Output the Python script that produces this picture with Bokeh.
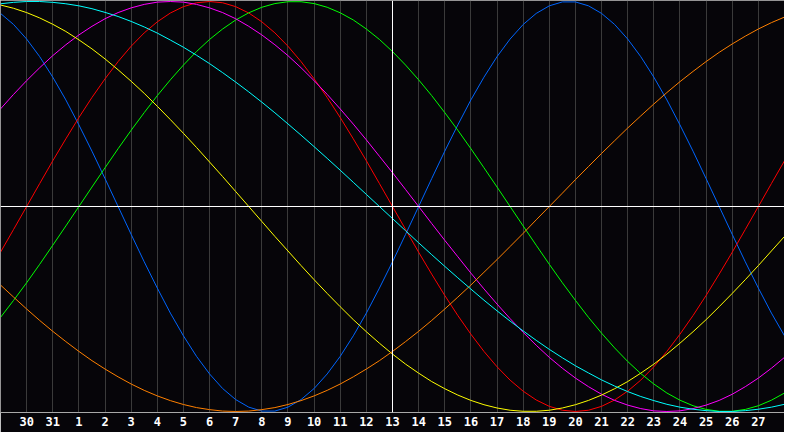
from bokeh.plotting import figure
from bokeh.models import Range1d, Span, FixedTicker
from bokeh.embed import file_html
from bokeh.resources import INLINE

# x positions: half-day steps over the 30-day window (0 = left edge, 15 = today)
days = [i * 0.5 for i in range(61)]

# biorhythm values in per mille (-1000 .. 1000), read at each half day
physical = [942, 888, 817, 731, 631, 520, 398, 270, 136, 0, -136, -270, -398, -520, -631, -731, -817, -888, -942, -979,
            -998, -998, -979, -942, -888, -817, -731, -631, -520, -398, -270, -136, 0, 136, 270, 398, 520, 631, 731, 817,
            888, 942, 979, 998, 998, 979, 942, 888, 817, 731, 631, 520, 398, 270, 136, 0, -136, -270, -398, -520, -631]
emotional = [-223, -112, 0, 112, 223, 330, 434, 532, 623, 707, 782, 847, 901, 944, 975, 994, 1000, 994, 975, 944,
             901, 847, 782, 707, 623, 532, 434, 330, 223, 112, 0, -112, -223, -330, -434, -532, -623, -707, -782, -847,
             -901, -944, -975, -994, -1000, -994, -975, -944, -901, -847, -782, -707, -623, -532, -434, -330, -223, -112, 0, 112, 223]
intellectual = [-541, -458, -372, -282, -189, -95, 0, 95, 189, 282, 372, 458, 541, 618, 690, 756, 815, 866, 910, 945,
                972, 990, 999, 999, 990, 972, 945, 910, 866, 815, 756, 690, 618, 541, 458, 372, 282, 189, 95, 0,
                -95, -189, -282, -372, -458, -541, -618, -690, -756, -815, -866, -910, -945, -972, -990, -999, -999, -990, -972, -945, -910]
intuitive = [476, 547, 614, 677, 736, 789, 837, 879, 916, 946, 969, 986, 997, 1000, 997, 986, 969, 946, 916, 879,
             837, 789, 736, 677, 614, 547, 476, 402, 325, 245, 165, 83, 0, -83, -165, -245, -325, -402, -476, -547,
             -614, -677, -736, -789, -837, -879, -916, -946, -969, -986, -997, -1000, -997, -986, -969, -946, -916, -879, -837, -789, -736]
aesthetic = [983, 967, 946, 920, 889, 854, 813, 769, 720, 667, 611, 552, 489, 424, 357, 288, 217, 146, 73, 0,
             -73, -146, -217, -288, -357, -424, -489, -552, -611, -667, -720, -769, -813, -854, -889, -920, -946, -967, -983, -994,
             -999, -999, -994, -983, -967, -946, -920, -889, -854, -813, -769, -720, -667, -611, -552, -489, -424, -357, -288, -217, -146]
awareness = [-383, -442, -500, -556, -609, -659, -707, -752, -793, -831, -866, -897, -924, -947, -966, -981, -991, -998, -1000, -998,
             -991, -981, -966, -947, -924, -897, -866, -831, -793, -752, -707, -659, -609, -556, -500, -442, -383, -321, -259, -195,
             -131, -65, 0, 65, 131, 195, 259, 321, 383, 442, 500, 556, 609, 659, 707, 752, 793, 831, 866, 897, 924]
spiritual = [989, 996, 1000, 1000, 996, 989, 979, 965, 947, 927, 903, 876, 846, 812, 777, 738, 697, 653, 607, 559,
             509, 457, 403, 348, 292, 235, 177, 118, 59, 0, -59, -118, -177, -235, -292, -348, -403, -457, -509, -559,
             -607, -653, -697, -738, -777, -812, -846, -876, -903, -927, -947, -965, -979, -989, -996, -1000, -1000, -996, -989, -979, -965]

series = [physical, emotional, intellectual, intuitive, aesthetic, awareness, spiritual]
colors = ["#0066ff", "#ff0000", "#00ff00", "#ff00ff", "#ffff00", "#ff8000", "#00ffff"]

tick_positions = list(range(1, 30))
tick_labels = ["30", "31", "1", "2", "3", "4", "5", "6", "7", "8", "9", "10", "11", "12", "13",
               "14", "15", "16", "17", "18", "19", "20", "21", "22", "23", "24", "25", "26", "27"]
today = 15

p = figure(width=784, height=432, output_backend="svg", toolbar_location=None,
           x_range=Range1d(0, 30), y_range=Range1d(-1005, 1005),
           min_border_left=0, min_border_right=0, min_border_top=0, min_border_bottom=20,
           background_fill_color="#060509", border_fill_color="#060509")
p.outline_line_color = None
p.yaxis.visible = False
p.ygrid.visible = False
p.xaxis.ticker = FixedTicker(ticks=tick_positions)
p.xaxis.major_label_overrides = {k: lab for k, lab in zip(tick_positions, tick_labels)}
p.xaxis.axis_line_color = "#a8a8a8"
p.xaxis.major_tick_line_color = None
p.xaxis.minor_tick_line_color = None
p.xaxis.major_tick_out = 0
p.xaxis.major_label_standoff = 4
p.xaxis.major_label_text_color = "#ffffff"
p.xaxis.major_label_text_font = "DejaVu Sans Mono"
p.xaxis.major_label_text_font_style = "bold"
p.xaxis.major_label_text_font_size = "12px"
p.xgrid.grid_line_color = "#3a3a3a"

p.add_layout(Span(location=0, dimension="height", line_color="#a8a8a8", line_width=1))
p.add_layout(Span(location=1005, dimension="width", line_color="#a8a8a8", line_width=1))
p.add_layout(Span(location=0, dimension="width", line_color="#ffffff", line_width=1))
p.add_layout(Span(location=today, dimension="height", line_color="#ffffff", line_width=1))

for vals, c in zip(series, colors):
    p.line(days, vals, line_color=c, line_width=1)

open("out.html", "w").write(file_html(p, INLINE))
